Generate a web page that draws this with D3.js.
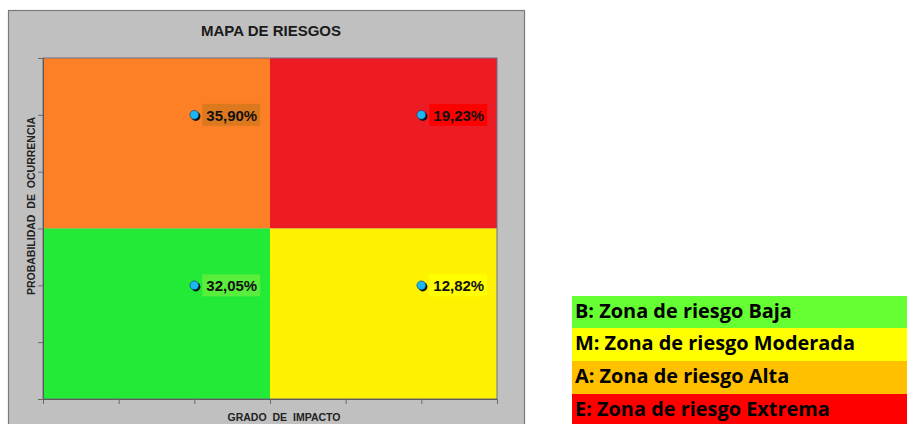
<!DOCTYPE html>
<html>
<head>
<meta charset="utf-8">
<script src="https://cdn.jsdelivr.net/npm/d3@7"></script>
<style>
  html, body { margin: 0; padding: 0; background: #ffffff; }
  svg { display: block; }
</style>
</head>
<body>
<svg id="chart" width="907" height="424"></svg>
<script>
// Quadrants of the risk map (impact range x probability range)
const zoneNames   = ["Alta", "Extrema", "Baja", "Moderada"];
const zoneX0      = [0, 3, 0, 3];
const zoneX1      = [3, 6, 3, 6];
const zoneY0      = [3, 3, 0, 0];
const zoneY1      = [6, 6, 3, 3];
const zoneFill    = ["#FD8026", "#ED1C24", "#22EA36", "#FFF200"];
const zoneLabelBg = ["#DC781E", "#FF0000", "#5AEE3C", "#FFFF00"];

// Risk points: impact, probability and share of risks
const pointImpact = [2, 5, 2, 5];
const pointProb   = [5, 5, 2, 2];
const pointValue  = [35.90, 19.23, 32.05, 12.82];

// Axis ticks
const xTicks = [0, 1, 2, 3, 4, 5, 6];
const yTicks = [0, 1, 2, 3, 4, 5, 6];

// Legend rows
const legendText  = ["B: Zona de riesgo Baja", "M: Zona de riesgo Moderada",
                     "A: Zona de riesgo Alta", "E: Zona de riesgo Extrema"];
const legendColor = ["#66FF33", "#FFFF00", "#FFC000", "#FF0000"];

const svg = d3.select("#chart");
const font = "'Liberation Sans', Arial, sans-serif";

// Grey chart panel
svg.append("rect")
  .attr("x", 8.5).attr("y", 10.5).attr("width", 516).attr("height", 420)
  .attr("fill", "#C0C0C0").attr("stroke", "#7A7A7A").attr("stroke-width", 1.2);

svg.append("text")
  .attr("x", 271).attr("y", 36)
  .attr("text-anchor", "middle")
  .style("font-family", font).style("font-weight", "bold").style("font-size", "15px")
  .attr("fill", "#1a1a1a")
  .text("MAPA DE RIESGOS");

const plot = { left: 43, top: 58, right: 497, bottom: 399 };
const x = d3.scaleLinear().domain([0, 6]).range([plot.left, plot.right]);
const y = d3.scaleLinear().domain([0, 6]).range([plot.bottom, plot.top]);

// Quadrant fills
svg.append("g").selectAll("rect")
  .data(zoneNames.map((n, i) => i))
  .join("rect")
  .attr("x", i => x(zoneX0[i]))
  .attr("y", i => y(zoneY1[i]))
  .attr("width", i => x(zoneX1[i]) - x(zoneX0[i]))
  .attr("height", i => y(zoneY0[i]) - y(zoneY1[i]))
  .attr("fill", i => zoneFill[i]);

// Plot frame
svg.append("rect")
  .attr("x", plot.left).attr("y", plot.top)
  .attr("width", plot.right - plot.left).attr("height", plot.bottom - plot.top)
  .attr("fill", "none").attr("stroke", "#6E6E86").attr("stroke-width", 1);

// Axes
const xAxis = svg.append("g")
  .attr("transform", `translate(0,${plot.bottom})`)
  .call(d3.axisBottom(x).tickValues(xTicks).tickSize(5).tickFormat(""));
const yAxis = svg.append("g")
  .attr("transform", `translate(${plot.left},0)`)
  .call(d3.axisLeft(y).tickValues(yTicks).tickSize(5).tickFormat(""));
[xAxis, yAxis].forEach(a => {
  a.selectAll("path").attr("stroke", "#5A5A5A");
  a.selectAll("line").attr("stroke", "#6A6A6A");
});

// Axis titles
svg.append("text")
  .attr("x", 284).attr("y", 421)
  .attr("text-anchor", "middle")
  .style("font-family", font).style("font-weight", "bold").style("font-size", "10.5px")
  .style("word-spacing", "3px")
  .attr("fill", "#222")
  .text("GRADO DE IMPACTO");

svg.append("text")
  .attr("transform", "translate(35,206) rotate(-90)")
  .attr("text-anchor", "middle")
  .style("font-family", font).style("font-weight", "bold").style("font-size", "10.5px")
  .style("word-spacing", "3px")
  .attr("fill", "#222")
  .text("PROBABILIDAD DE OCURRENCIA");

// Data labels and markers
const pct = d3.formatLocale({ decimal: ",", thousands: ".", grouping: [3], currency: ["", ""] }).format(".2f");
const pts = svg.append("g").selectAll("g")
  .data(pointValue.map((v, i) => i))
  .join("g")
  .attr("transform", i => `translate(${x(pointImpact[i])},${y(pointProb[i])})`);

pts.each(function (i) {
  const g = d3.select(this);
  const label = g.append("text")
    .attr("x", 12).attr("y", 6)
    .style("font-family", font).style("font-weight", "bold").style("font-size", "15px")
    .attr("fill", "#111")
    .text(pct(pointValue[i]) + "%");
  const bb = label.node().getBBox();
  g.insert("rect", "text")
    .attr("x", bb.x - 4).attr("y", -11)
    .attr("width", bb.width + 7).attr("height", 22)
    .attr("fill", zoneLabelBg[i]);
  g.append("circle")
    .attr("cx", 1.5).attr("cy", 1.5).attr("r", 4.6)
    .attr("fill", "#111");
  g.append("circle")
    .attr("cx", 0).attr("cy", 0).attr("r", 4.4)
    .attr("fill", "#19B8F5").attr("stroke", "#0a3a66").attr("stroke-width", 0.6);
});

// Zone legend: font sized so the longest row spans the band
const legend = { left: 572, right: 907, rows: [296, 328, 361, 394, 428] };
const legendFont = "'Open Sans', Lato, sans-serif";
const probe = svg.append("text")
  .style("font-family", legendFont).style("font-weight", "bold").style("font-size", "20px")
  .text(legendText[1]);
const legendSize = 20 * 280 / probe.node().getComputedTextLength();
probe.remove();

legendText.forEach((t, i) => {
  svg.append("rect")
    .attr("x", legend.left).attr("y", legend.rows[i])
    .attr("width", legend.right - legend.left).attr("height", legend.rows[i + 1] - legend.rows[i])
    .attr("fill", legendColor[i]);
  svg.append("text")
    .attr("x", 575).attr("y", legend.rows[i] + 22)
    .style("font-family", legendFont).style("font-weight", "bold")
    .style("font-size", legendSize + "px")
    .attr("fill", "#000")
    .text(t);
});
</script>
</body>
</html>
